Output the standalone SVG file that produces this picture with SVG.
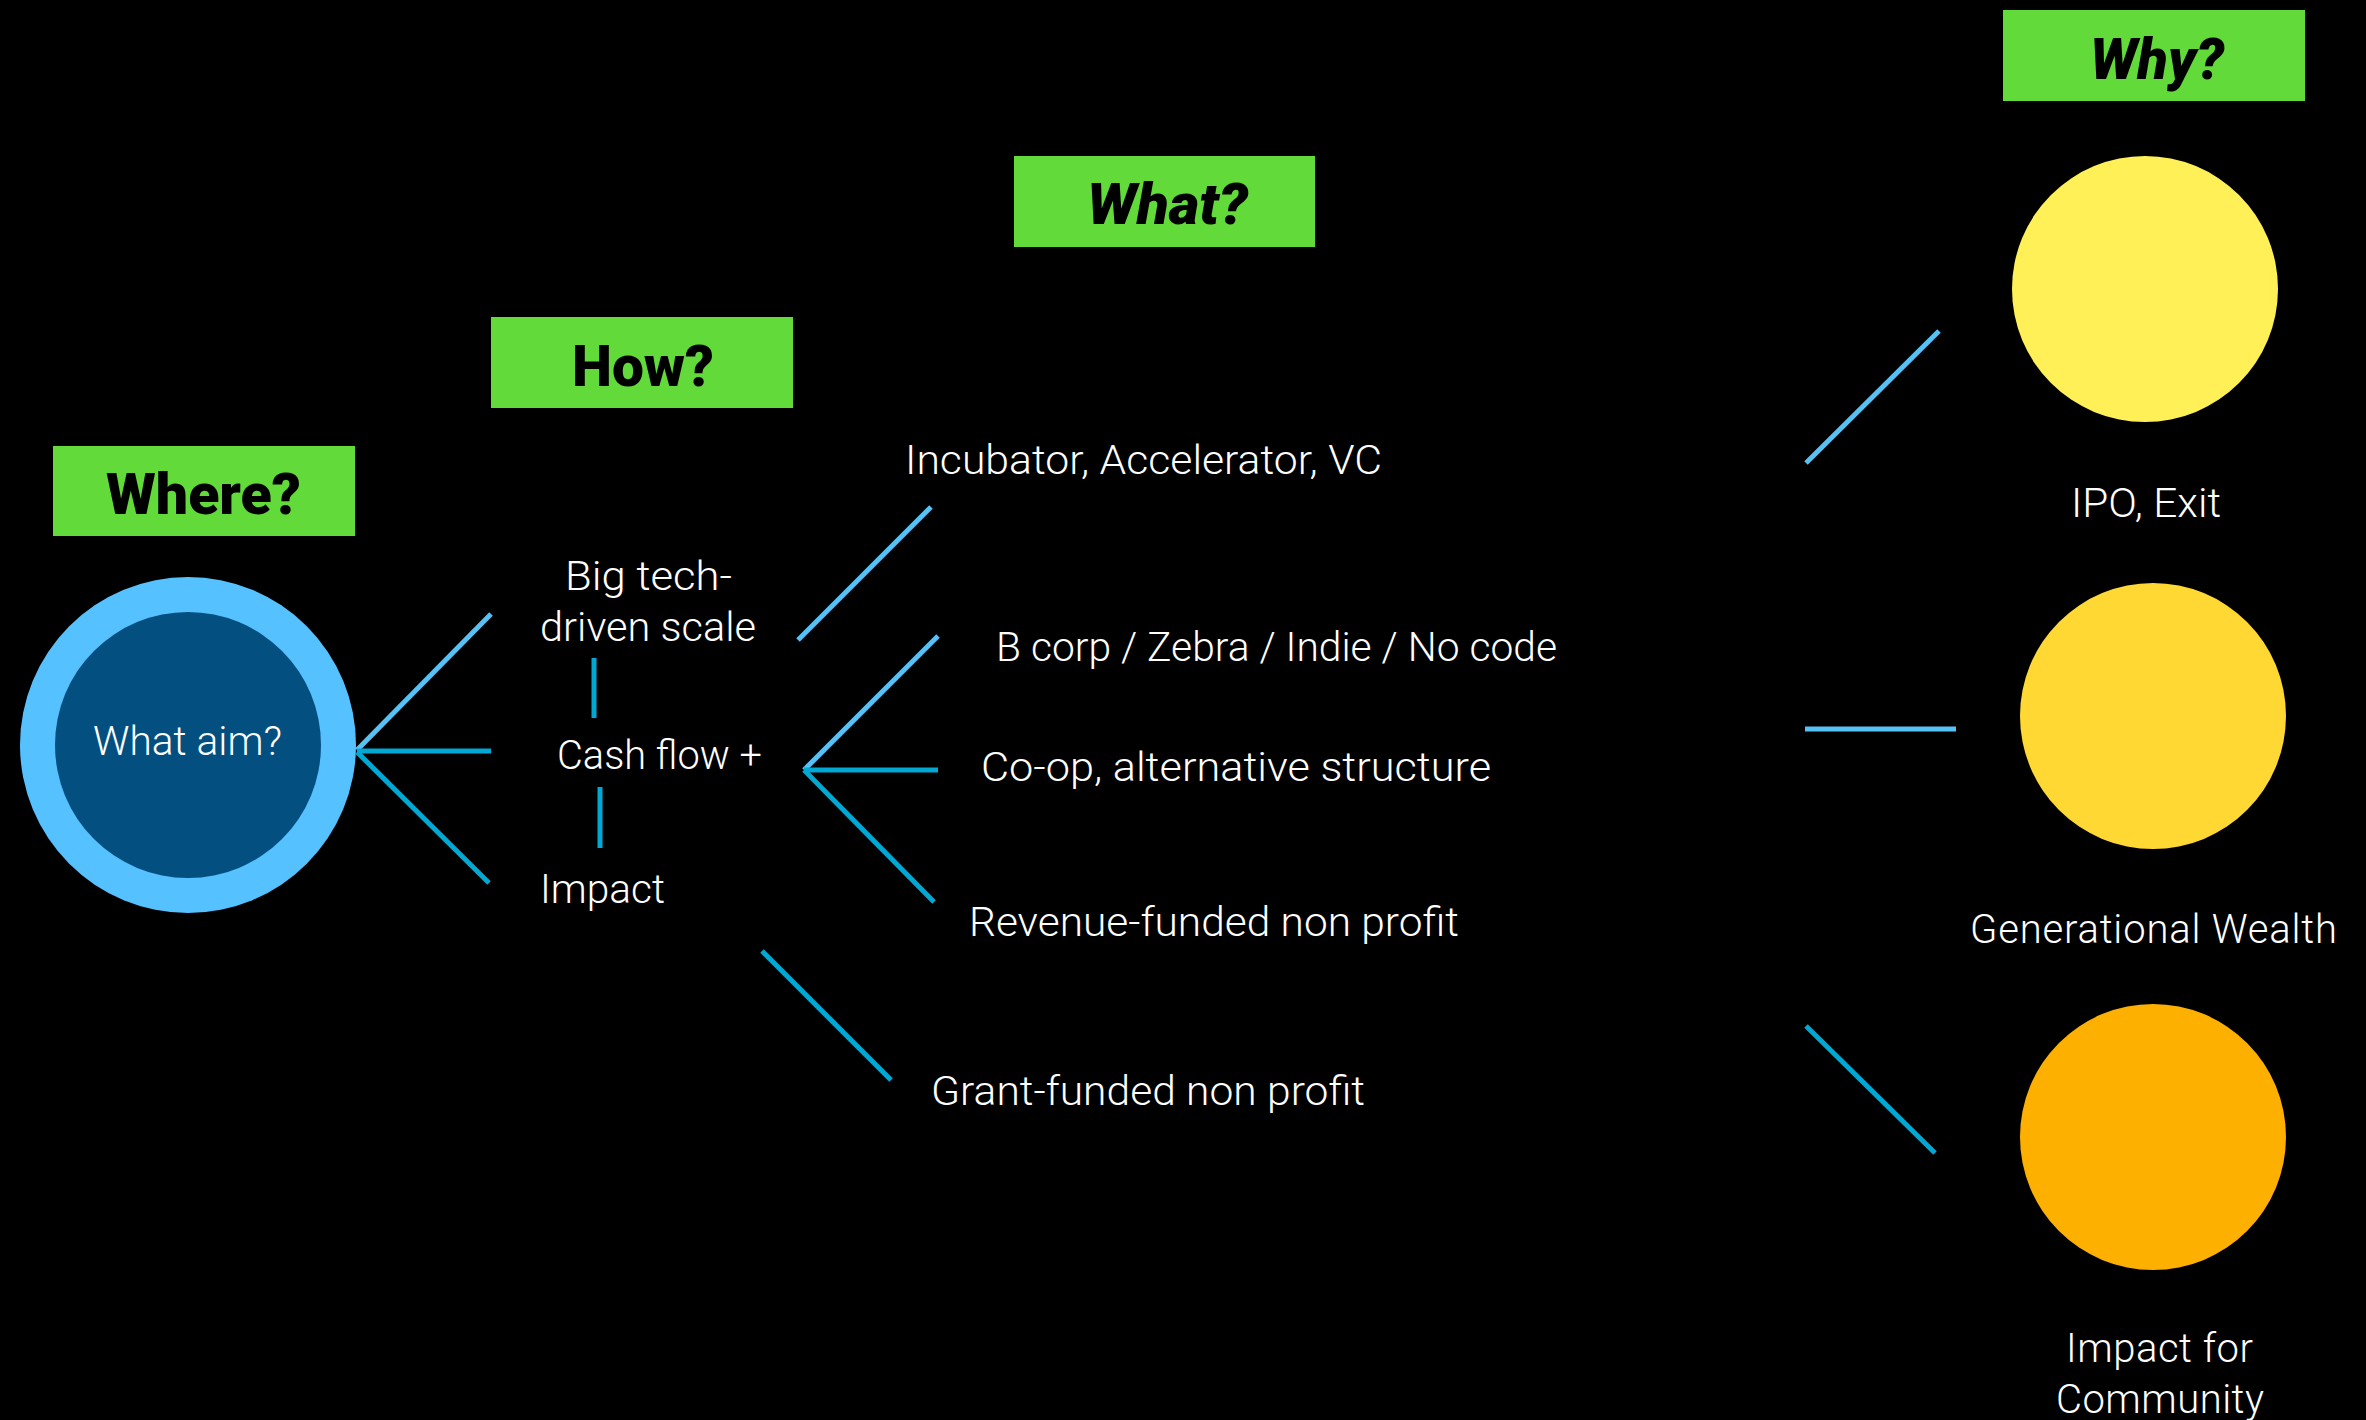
<svg xmlns="http://www.w3.org/2000/svg" width="2366" height="1420" viewBox="0 0 2366 1420">
<style>
.hbox{fill:#61DA3A}
.head{font-family:Roboto,"Liberation Sans",sans-serif;font-weight:900;font-size:58px;fill:#000}
.it{font-style:italic}
.lbl{font-family:Roboto,"Liberation Sans",sans-serif;font-weight:300;font-size:40px;fill:#fff}
.l1{stroke:#56C1F5;stroke-width:5;fill:none;stroke-linecap:butt}
.l2{stroke:#00A8D4;stroke-width:5;fill:none;stroke-linecap:butt}
</style>
<rect x="0" y="0" width="2366" height="1420" fill="#000"/>
<g id="where"><rect class="hbox" x="53" y="446" width="302" height="90"/><text class="head" x="106" y="514" textLength="195" lengthAdjust="spacingAndGlyphs">Where?</text></g>
<g id="how"><rect class="hbox" x="491" y="317" width="302" height="91"/><text class="head" x="572" y="386" textLength="142" lengthAdjust="spacingAndGlyphs">How?</text></g>
<g id="what"><rect class="hbox" x="1014" y="156" width="301" height="91"/><text class="head it" x="1087" y="224" textLength="161" lengthAdjust="spacingAndGlyphs">What?</text></g>
<g id="why"><rect class="hbox" x="2003" y="10" width="302" height="91"/><text class="head it" x="2090" y="79" textLength="134" lengthAdjust="spacingAndGlyphs">Why?</text></g>
<g id="aim"><circle cx="188" cy="745" r="168" fill="#56C1FF"/><circle cx="188" cy="745" r="133" fill="#024F80"/><text class="lbl" x="93" y="755" textLength="189" lengthAdjust="spacingAndGlyphs">What aim?</text></g>
<g id="bigtech"><text class="lbl" x="565" y="590" textLength="167" lengthAdjust="spacingAndGlyphs">Big tech-</text><text class="lbl" x="540" y="641" textLength="216" lengthAdjust="spacingAndGlyphs">driven scale</text></g>
<g id="cashflow"><text class="lbl" x="557" y="769" textLength="205" lengthAdjust="spacingAndGlyphs">Cash flow +</text></g>
<g id="impact"><text class="lbl" x="540" y="903" textLength="125" lengthAdjust="spacingAndGlyphs">Impact</text></g>
<g id="incubator"><text class="lbl" x="905" y="474" textLength="477" lengthAdjust="spacingAndGlyphs">Incubator, Accelerator, VC</text></g>
<g id="bcorp"><text class="lbl" x="996" y="661" textLength="561" lengthAdjust="spacingAndGlyphs">B corp / Zebra / Indie / No code</text></g>
<g id="coop"><text class="lbl" x="981" y="781" textLength="510" lengthAdjust="spacingAndGlyphs">Co-op, alternative structure</text></g>
<g id="revenue"><text class="lbl" x="969" y="936" textLength="490" lengthAdjust="spacingAndGlyphs">Revenue-funded non profit</text></g>
<g id="grant"><text class="lbl" x="931" y="1105" textLength="434" lengthAdjust="spacingAndGlyphs">Grant-funded non profit</text></g>
<g id="ipo"><circle cx="2145" cy="289" r="133" fill="#FFF057"/><text class="lbl" x="2071" y="517" textLength="150" lengthAdjust="spacingAndGlyphs">IPO, Exit</text></g>
<g id="wealth"><circle cx="2153" cy="716" r="133" fill="#FFD833"/><text class="lbl" x="1970" y="943" textLength="367" lengthAdjust="spacing">Generational Wealth</text></g>
<g id="community"><circle cx="2153" cy="1137" r="133" fill="#FDB000"/><text class="lbl" x="2066" y="1362" textLength="187" lengthAdjust="spacing">Impact for</text><text class="lbl" x="2056" y="1413" textLength="208" lengthAdjust="spacing">Community</text></g>
<g id="connectors">
<line class="l1" x1="357" y1="750" x2="491" y2="614"/>
<line class="l2" x1="357" y1="751" x2="491" y2="751"/>
<line class="l2" x1="357" y1="752" x2="489" y2="883"/>
<line class="l2" x1="594" y1="658" x2="594" y2="718"/>
<line class="l2" x1="600" y1="787" x2="600" y2="848"/>
<line class="l1" x1="798" y1="640" x2="931" y2="507"/>
<line class="l1" x1="804" y1="770" x2="938" y2="636"/>
<line class="l2" x1="804" y1="770" x2="938" y2="770"/>
<line class="l2" x1="804" y1="770" x2="934" y2="902"/>
<line class="l2" x1="762" y1="951" x2="891" y2="1080"/>
<line class="l1" x1="1806" y1="463" x2="1939" y2="331"/>
<line class="l1" x1="1805" y1="729" x2="1956" y2="729"/>
<line class="l2" x1="1806" y1="1026" x2="1935" y2="1153"/>
</g>
</svg>
